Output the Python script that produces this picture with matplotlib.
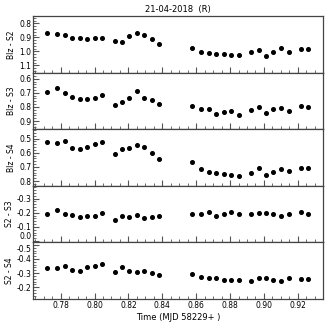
import numpy as np
import matplotlib
matplotlib.use('Agg')
import matplotlib.pyplot as plt
from matplotlib.ticker import MultipleLocator

# Time (MJD 58229+)
time = [0.7721, 0.7780, 0.7824, 0.7868, 0.7912, 0.7956, 0.8000, 0.8045,
        0.8118, 0.8161, 0.8204, 0.8249, 0.8294, 0.8337, 0.8382,
        0.8574, 0.8631, 0.8674, 0.8719, 0.8762, 0.8807, 0.8851,
        0.8925, 0.8968, 0.9013, 0.9056, 0.9101, 0.9147, 0.9218, 0.9262]

blz_s2 = [0.870, 0.877, 0.880, 0.903, 0.908, 0.913, 0.903, 0.903,
          0.925, 0.934, 0.894, 0.866, 0.887, 0.913, 0.946,
          0.976, 1.002, 1.014, 1.019, 1.019, 1.026, 1.029,
          1.005, 0.988, 1.031, 1.005, 0.976, 1.007, 0.986, 0.983]

blz_s3 = [0.692, 0.668, 0.703, 0.727, 0.746, 0.741, 0.739, 0.717,
          0.788, 0.763, 0.739, 0.689, 0.734, 0.751, 0.779,
          0.793, 0.814, 0.814, 0.850, 0.835, 0.831, 0.855,
          0.821, 0.798, 0.840, 0.816, 0.805, 0.826, 0.793, 0.798]

blz_s4 = [0.523, 0.528, 0.519, 0.566, 0.575, 0.557, 0.540, 0.521,
          0.606, 0.575, 0.566, 0.545, 0.561, 0.603, 0.644,
          0.667, 0.714, 0.733, 0.743, 0.752, 0.759, 0.762,
          0.740, 0.705, 0.755, 0.735, 0.716, 0.726, 0.709, 0.705]

s2_s3 = [-0.190, -0.220, -0.192, -0.187, -0.171, -0.180, -0.175, -0.197,
         -0.149, -0.180, -0.168, -0.185, -0.166, -0.171, -0.178,
         -0.190, -0.194, -0.206, -0.180, -0.192, -0.206, -0.190,
         -0.192, -0.199, -0.199, -0.194, -0.180, -0.192, -0.204, -0.192]

s2_s4 = [-0.335, -0.335, -0.353, -0.323, -0.318, -0.342, -0.351, -0.367,
         -0.307, -0.344, -0.314, -0.307, -0.314, -0.300, -0.290,
         -0.295, -0.276, -0.269, -0.264, -0.254, -0.254, -0.254,
         -0.247, -0.266, -0.264, -0.254, -0.245, -0.269, -0.261, -0.261]

series = [blz_s2, blz_s3, blz_s4, s2_s3, s2_s4]
labels = ['Blz - S2', 'Blz - S3', 'Blz - S4', 'S2 - S3', 'S2 - S4']
ylims = [(1.152, 0.748), (0.957, 0.557), (0.833, 0.433), (0.009, -0.391), (-0.118, -0.518)]
yticks = [[0.8, 0.9, 1.0, 1.1], [0.6, 0.7, 0.8, 0.9], [0.5, 0.6, 0.7, 0.8],
          [-0.3, -0.2, -0.1, 0.0], [-0.5, -0.4, -0.3, -0.2]]

fig, axes = plt.subplots(5, 1, figsize=(3.27, 3.27), dpi=100, sharex=True)
fig.subplots_adjust(left=0.102, right=0.987, top=0.951, bottom=0.086, hspace=0)

for ax, y, lab, yl, yt in zip(axes, series, labels, ylims, yticks):
    ax.errorbar(time, y, yerr=0.005, fmt='o', color='black', ms=2.6,
                elinewidth=1.0, capsize=0)
    ax.set_ylim(yl)
    ax.set_yticks(yt, ['%.1f' % v for v in yt])
    ax.yaxis.set_minor_locator(MultipleLocator(0.02))
    ax.set_ylabel(lab, fontsize=5.5, labelpad=2)
    ax.tick_params(axis='both', which='major', direction='in', length=4,
                   width=0.8, labelsize=5.5, pad=1.5, color='#555555')
    ax.tick_params(axis='both', which='minor', direction='in', length=2,
                   width=0.6, color='#555555')
    for s in ax.spines.values():
        s.set_color('#444444')
        s.set_linewidth(0.9)

# keep the 0.0 / -0.5 labels at the shared edge from running into each other
axes[3].get_yticklabels()[-1].set_va('bottom')
axes[4].get_yticklabels()[0].set_va('top')

axes[-1].set_xlim(0.7639, 0.9347)
axes[-1].set_xticks([0.78, 0.80, 0.82, 0.84, 0.86, 0.88, 0.90, 0.92])
axes[-1].xaxis.set_minor_locator(MultipleLocator(0.005))
axes[-1].set_xlabel('Time (MJD 58229+ )', fontsize=6, labelpad=2)
axes[0].set_title('21-04-2018  (R)', fontsize=6, pad=3)

plt.savefig('out.png', dpi=100)
